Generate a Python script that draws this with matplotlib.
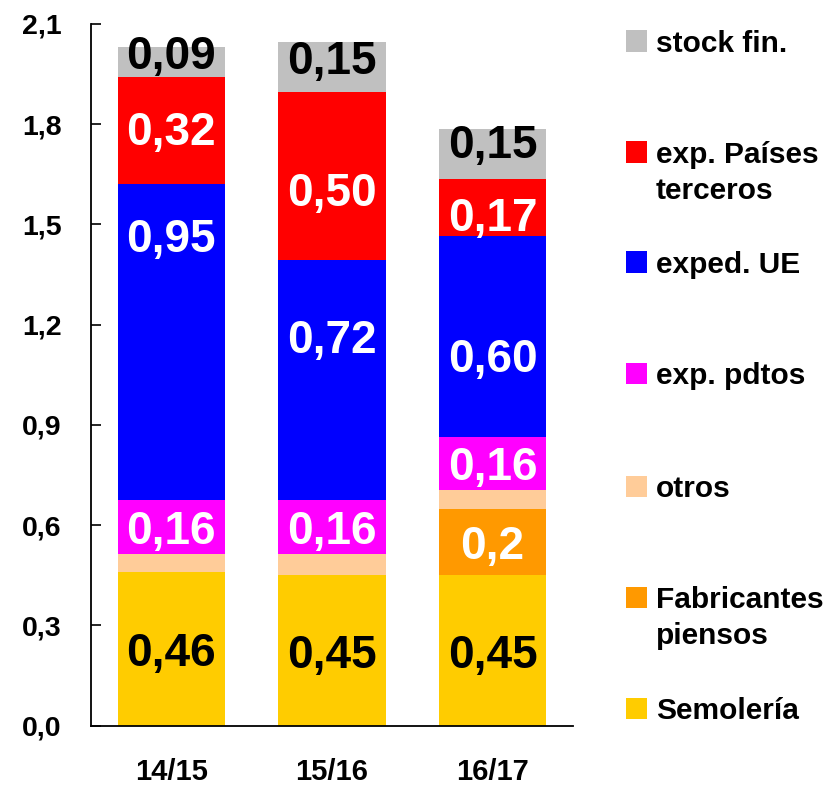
import matplotlib
matplotlib.use("Agg")
import matplotlib.pyplot as plt
from matplotlib.patches import Rectangle
import numpy as np

plt.rcParams['font.family'] = ['Liberation Sans', 'DejaVu Sans']
plt.rcParams['font.weight'] = 'bold'

# ---------------- data ----------------
categories = ["14/15", "15/16", "16/17"]
series_names = ["Semolería", "Fabricantes\npiensos", "otros", "exp. pdtos",
                "exped. UE", "exp. Países\nterceros", "stock fin."]
semoleria   = [0.46, 0.45, 0.45]
fabricantes = [0.00, 0.00, 0.20]
otros       = [0.055, 0.065, 0.055]
exp_pdtos   = [0.16, 0.16, 0.16]
exped_ue    = [0.945, 0.72, 0.60]
exp_paises  = [0.32, 0.50, 0.17]
stock_fin   = [0.09, 0.15, 0.15]
series_values = [semoleria, fabricantes, otros, exp_pdtos, exped_ue, exp_paises, stock_fin]

# label texts shown in segments (None = no label)
lbl_semoleria   = ["0,46", "0,45", "0,45"]
lbl_fabricantes = [None, None, "0,2"]
lbl_otros       = [None, None, None]
lbl_exp_pdtos   = ["0,16", "0,16", "0,16"]
lbl_exped_ue    = ["0,95", "0,72", "0,60"]
lbl_exp_paises  = ["0,32", "0,50", "0,17"]
lbl_stock_fin   = ["0,09", "0,15", "0,15"]
series_labels = [lbl_semoleria, lbl_fabricantes, lbl_otros, lbl_exp_pdtos,
                 lbl_exped_ue, lbl_exp_paises, lbl_stock_fin]

y_ticks = [0.0, 0.3, 0.6, 0.9, 1.2, 1.5, 1.8, 2.1]
y_tick_labels = ["0,0", "0,3", "0,6", "0,9", "1,2", "1,5", "1,8", "2,1"]

# ---------------- style ----------------
colors = ["#FFCC00", "#FF9900", "#FFCC99", "#FF00FF", "#0000FF", "#FF0000", "#C0C0C0"]
label_colors = ["black", "white", "black", "white", "white", "white", "black"]
# manual label shifts (data units) relative to segment centre, per series per bar
label_shift = [
    [0, 0, 0],
    [0, 0, 0],
    [0, 0, 0],
    [0, 0, 0],
    [0.32, 0.13, -0.055],
    [0.01, -0.04, -0.02],
    [0.03, 0.03, 0.04],
]

W, H = 834, 787
fig = plt.figure(figsize=(W / 100, H / 100), dpi=100)
ax = fig.add_axes([91 / W, 1 - 725.7 / H, (573 - 91) / W, (725.7 - 24) / H])

x = np.arange(len(categories))
bottom = np.zeros(len(categories))
for i, vals in enumerate(series_values):
    vals = np.array(vals)
    ax.bar(x, vals, width=0.67, bottom=bottom, color=colors[i], edgecolor='none', zorder=2)
    for j in range(len(categories)):
        txt = series_labels[i][j]
        if txt:
            yc = bottom[j] + vals[j] / 2 + label_shift[i][j]
            ax.text(x[j], yc, txt, ha='center', va='center_baseline', fontsize=33,
                    fontweight='bold', color=label_colors[i], zorder=3)
    bottom = bottom + vals

ax.set_xlim(-0.5, 2.5)
ax.set_ylim(0, 2.1)
ax.set_yticks(y_ticks)
ax.set_yticklabels(y_tick_labels)
ax.set_xticks(x)
ax.set_xticklabels(categories)
for s in ['top', 'right']:
    ax.spines[s].set_visible(False)
for s in ['left', 'bottom']:
    ax.spines[s].set_linewidth(1.3)
ax.tick_params(axis='y', direction='in', length=7, width=1.2, pad=21, labelsize=20.5)
ax.tick_params(axis='x', length=0, pad=23, labelsize=21)
for t in ax.get_xticklabels() + ax.get_yticklabels():
    t.set_fontweight('bold')

# ---------------- legend (manual) ----------------
legend_y = [708, 597, 486, 373, 262, 152, 41]   # pixel centres of first lines
line_gap = 36
sq = 21
for i, name in enumerate(series_names):
    yc = legend_y[i]
    fig.patches.append(Rectangle((626 / W, 1 - (yc + sq / 2) / H), sq / W, sq / H,
                                 transform=fig.transFigure, facecolor=colors[i],
                                 edgecolor='none'))
    for k, line in enumerate(name.split("\n")):
        fig.text(656 / W, 1 - (yc + k * line_gap) / H, line, ha='left',
                 va='center_baseline', fontsize=21.5, fontweight='bold', color='black')

fig.savefig("out.png", dpi=100)
